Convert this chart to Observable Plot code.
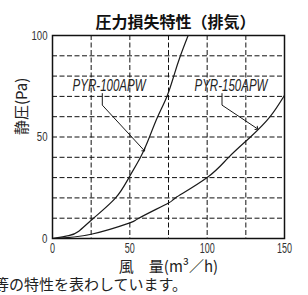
<!DOCTYPE html>
<html><head><meta charset="utf-8">
<script src="https://cdn.jsdelivr.net/npm/d3@7"></script>
<script src="https://cdn.jsdelivr.net/npm/@observablehq/plot@0.6"></script>
<style>
body{margin:0;background:#fff;width:308px;height:295px;overflow:hidden;position:relative;font-family:"Noto Sans CJK JP",sans-serif}
#cap{position:absolute;left:-6px;top:275px;font-size:15px;white-space:nowrap;color:#222;line-height:18px}
</style></head>
<body><div id="chart"></div><div id="cap">等の特性を表わしています。</div>
<script>
const titleText = "圧力損失特性（排気）";
const xLabel = "風　量(m³／h)";
const yLabel = "静圧(Pa)";
const xTicks = [0, 50, 100, 150];
const yTicks = [0, 50, 100];
const xGrid = [25, 50, 75, 100, 125];
const yGrid = [10, 20, 30, 40, 50, 60, 70, 80, 90];

// PYR-100APW
const flow100 = [0, 10.5, 17, 26.5, 40.8, 49.4, 56.9, 62.7, 68, 74, 78.4, 82.7, 87.7];
const pa100   = [0, 1.4, 3.6, 10, 20, 30, 40, 50, 60, 70, 80, 90, 100];
// PYR-150APW
const flow150 = [0, 25, 50, 55.8, 75, 79.5, 100, 113.9, 128, 140.7, 150];
const pa150   = [0, 2.1, 7.7, 10, 17.5, 20, 30, 40, 50, 60, 70.5];

const labelNames = ["PYR-100APW", "PYR-150APW"];
const labelQ = [36.6, 115.4];
const labelP = [72.6, 72.6];
const lead100Q = [32.2, 32.2, 59.1];
const lead100P = [71.4, 65.7, 43.5];
const lead150Q = [109.6, 109.6, 132.2];
const lead150P = [71.4, 65.7, 54.2];

const zip = (a, b) => a.map((q, i) => ({q, p: b[i]}));
const c100 = zip(flow100, pa100);
const c150 = zip(flow150, pa150);
const l100 = zip(lead100Q, lead100P);
const l150 = zip(lead150Q, lead150P);
const labels = labelNames.map((n, i) => ({n, q: labelQ[i], p: labelP[i]}));

const jp = "Noto Sans CJK JP";
const plot = Plot.plot({
  width: 308, height: 276,
  marginLeft: 52, marginRight: 24, marginTop: 35, marginBottom: 38,
  style: {background: "white", overflow: "visible", fontFamily: "Liberation Sans, sans-serif"},
  x: {domain: [0, 150]},
  y: {domain: [0, 100]},
  marks: [
    Plot.ruleX(xGrid, {x: d => d, stroke: "#111", strokeWidth: 1, strokeDasharray: "5 2.5"}),
    Plot.ruleY(yGrid, {y: d => d, stroke: "#111", strokeWidth: 1, strokeDasharray: "5 2.5"}),
    Plot.frame({stroke: "#111", strokeWidth: 1.5}),
    Plot.axisX(xTicks, {tickSize: 0, tickPadding: 4, fontSize: 15, fill: "#333", label: null}),
    Plot.axisY(yTicks, {tickSize: 0, tickPadding: 5, fontSize: 12.5, fill: "#333", label: null}),
    Plot.line(c100, {x: "q", y: "p", curve: "natural", stroke: "#1a1a1a", strokeWidth: 1.2, clip: true}),
    Plot.line(c150, {x: "q", y: "p", curve: "natural", stroke: "#1a1a1a", strokeWidth: 1.2, clip: true}),
    Plot.line(l100, {x: "q", y: "p", stroke: "#1a1a1a", strokeWidth: 1, markerEnd: "arrow"}),
    Plot.line(l150, {x: "q", y: "p", stroke: "#1a1a1a", strokeWidth: 1, markerEnd: "arrow"}),
    Plot.text(labels, {x: "q", y: "p", text: "n", lineAnchor: "bottom", fontSize: 16, fontStyle: "italic", fill: "#222"}),
    Plot.text([titleText], {frameAnchor: "top", dx: 7, dy: -19, fontSize: 16, fontWeight: "bold", fontFamily: jp, fill: "#111"}),
    Plot.text([xLabel], {frameAnchor: "bottom", dy: 33, fontSize: 15, fontFamily: jp, fill: "#222"}),
    Plot.text([yLabel], {frameAnchor: "left", dx: -30, dy: -2, rotate: -90, fontSize: 15, fontFamily: jp, fill: "#222"})
  ]
});
document.getElementById("chart").append(plot);
plot.querySelectorAll("text").forEach(t => {
  const s = t.textContent;
  let w = null;
  if (labelNames.includes(s)) w = 73;
  else if (t.closest('g[aria-label="x-axis tick label"]')) w = t.getComputedTextLength() * 0.6;
  else if (t.closest('g[aria-label="y-axis tick label"]')) w = t.getComputedTextLength() * 0.77;
  if (w != null) {
    t.setAttribute("textLength", w.toFixed(1));
    t.setAttribute("lengthAdjust", "spacingAndGlyphs");
  }
});
</script>
</body></html>
